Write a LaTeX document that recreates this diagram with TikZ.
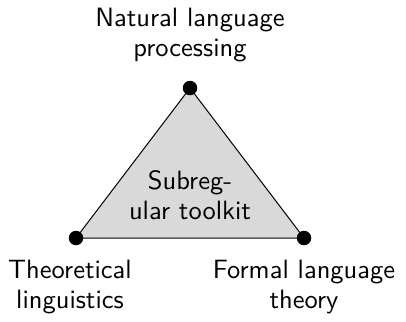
\documentclass[tikz,border=0pt]{standalone}
\usetikzlibrary{backgrounds}
\begin{document}
\begin{tikzpicture}[x=0.4pt,y=-0.4pt,font=\sffamily\fontsize{10.6}{12.2}\selectfont]
    \useasboundingbox (0,0) rectangle (406,321);
    \begin{scope}[every node/.style={circle,fill=black,inner sep=0pt,minimum size=5.8pt}]
        \node (nlp) at (190,88) {};
        \node (ling) at (76,238) {};
        \node (flt) at (304,238) {};
    \end{scope}

    \begin{scope}[on background layer]
        \draw[fill=black!15] (nlp.center) -- (ling.center) -- (flt.center) -- cycle;
    \end{scope}

    \begin{scope}[every node/.style={align=center}]
        \node (nlptext) at (190,35) {Natural language\\processing};
        \node (lingtext) at (70,287) {Theoretical\\linguistics};
        \node (flttext) at (304,287) {Formal language\\theory};
        \node (kit) at (190,195) {Subreg-\\ular toolkit};
    \end{scope}
\end{tikzpicture}
\end{document}
